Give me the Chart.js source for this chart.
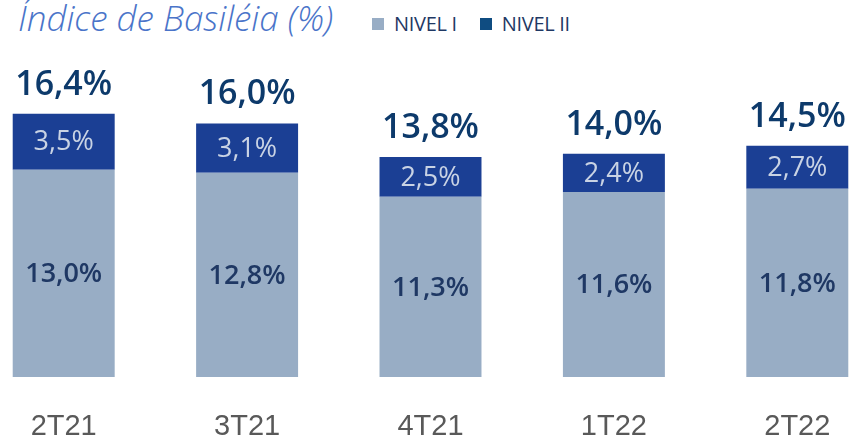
<!DOCTYPE html>
<html>
<head>
<meta charset="utf-8">
<script src="https://cdn.jsdelivr.net/npm/chart.js@4"></script>
<style>
  html, body { margin: 0; padding: 0; background: #fff; overflow: hidden; }
  #wrap { position: relative; width: 850px; height: 437px; overflow: hidden; }
  #title {
    position: absolute; left: 18px; top: -2px; line-height: 40px;
    font-family: "Open Sans", sans-serif; font-style: italic; font-weight: 300;
    font-size: 35px; color: #4A74C9; white-space: nowrap;
  }
  #legend {
    position: absolute; left: 372px; top: 10px;
    font-family: "Open Sans", sans-serif; font-size: 20px; color: #1F3864;
    white-space: nowrap; letter-spacing: -0.3px;
  }
  #legend span.item { display: inline-block; margin-right: 18px; }
  #legend span.box { display: inline-block; width: 12px; height: 12px; margin-right: 10px; vertical-align: 1px; }
  #chart { position: absolute; left: -28px; top: 0; }
</style>
</head>
<body>
<div id="wrap">
  <div id="title">Índice de Basiléia (%)</div>
  <div id="legend">
    <span class="item"><span class="box" style="background:#98ADC5"></span>NIVEL I</span>
    <span class="item"><span class="box" style="background:#0F4C81"></span>NIVEL II</span>
  </div>
  <canvas id="chart" width="917" height="437"></canvas>
</div>
<script>
const categories = ["2T21", "3T21", "4T21", "1T22", "2T22"];
const nivel1 = [13.0, 12.8, 11.3, 11.6, 11.8];
const nivel2 = [3.5, 3.1, 2.5, 2.4, 2.7];
const totals = [16.4, 16.0, 13.8, 14.0, 14.5];

function fmt(v) {
  return v.toFixed(1).replace(".", ",") + "%";
}

// Draw values inside the bars and the totals above them
const labelPlugin = {
  id: "barLabels",
  afterDatasetsDraw(chart) {
    const ctx = chart.ctx;
    ctx.save();
    ctx.textAlign = "center";
    ctx.textBaseline = "middle";
    chart.data.datasets.forEach((ds, i) => {
      const meta = chart.getDatasetMeta(i);
      meta.data.forEach((bar, j) => {
        const y = (bar.y + bar.base) / 2;
        if (i === 0) {
          ctx.font = "600 27px 'Open Sans'";
          ctx.fillStyle = "#1F3864";
        } else {
          ctx.font = "27px 'Open Sans'";
          ctx.fillStyle = "#C9D3E4";
        }
        ctx.fillText(fmt(ds.data[j]), bar.x, y + 1);
      });
    });
    const top = chart.getDatasetMeta(1);
    ctx.font = "600 34px 'Open Sans'";
    ctx.fillStyle = "#0D3A6B";
    ctx.textBaseline = "alphabetic";
    top.data.forEach((bar, j) => {
      ctx.fillText(fmt(totals[j]), bar.x, bar.y - 19);
    });
    ctx.restore();
  }
};

const ctx = document.getElementById("chart").getContext("2d");
const chart = new Chart(ctx, {
  type: "bar",
  data: {
    labels: categories,
    datasets: [
      {
        label: "NIVEL I",
        data: nivel1,
        backgroundColor: "#98ADC5",
        barPercentage: 0.556,
        categoryPercentage: 1,
      },
      {
        label: "NIVEL II",
        data: nivel2,
        backgroundColor: "#1B3F94",
        barPercentage: 0.556,
        categoryPercentage: 1,
      },
    ],
  },
  options: {
    responsive: false,
    animation: false,
    layout: { padding: { top: 58, bottom: 0, left: 0, right: 0 } },
    plugins: {
      legend: { display: false },
      tooltip: { enabled: false },
    },
    scales: {
      x: {
        stacked: true,
        grid: { display: false, drawTicks: false },
        border: { display: false },
        ticks: {
          padding: 33,
          color: "#595959",
          font: { family: "'Liberation Sans'", size: 29 },
        },
        afterFit(scale) {
          scale.height = 60;
        },
      },
      y: {
        stacked: true,
        display: false,
        min: 0,
        max: 20,
      },
    },
  },
  plugins: [labelPlugin],
});
</script>
</body>
</html>
